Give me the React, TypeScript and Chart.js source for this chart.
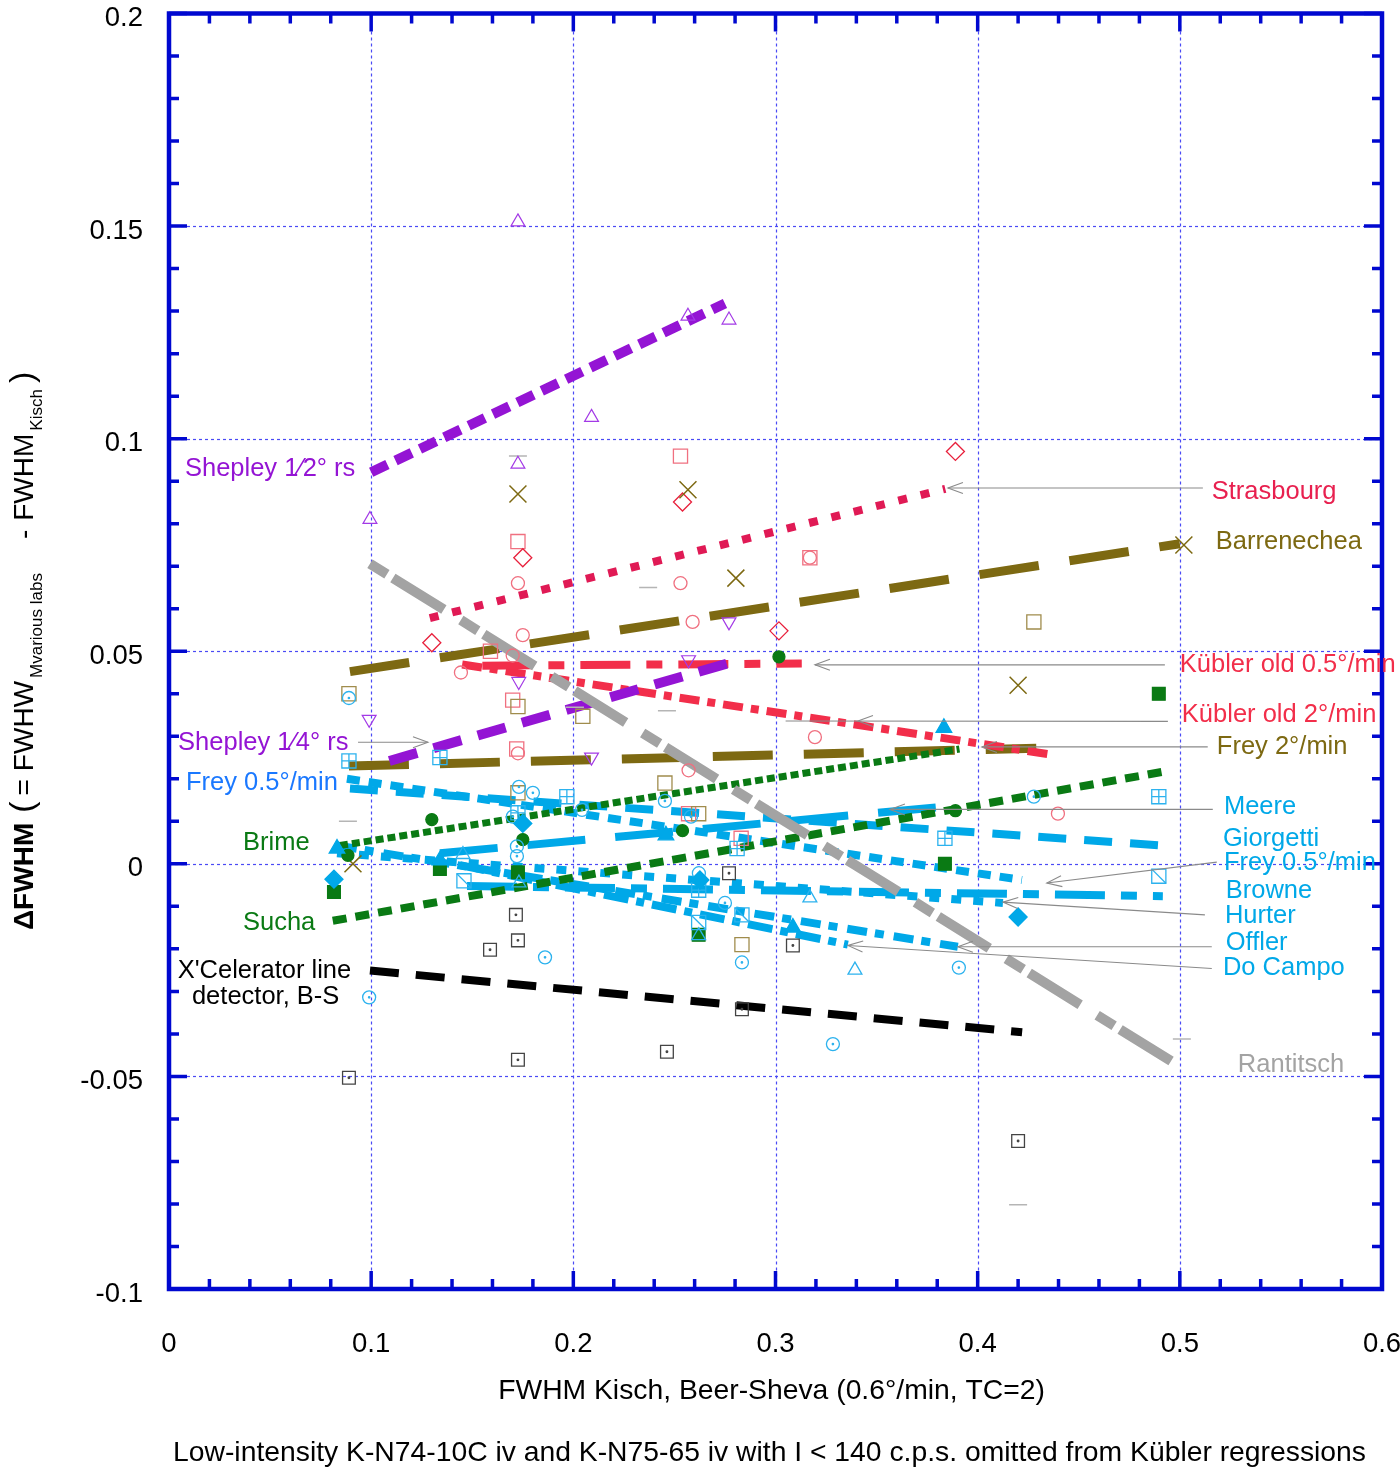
import React, { useEffect, useRef } from 'react';
import { Chart, registerables } from 'chart.js';
Chart.register(...registerables);

type P = [number, number];

// ---------- axes ----------
const X_MIN = 0, X_MAX = 0.6, Y_MIN = -0.1, Y_MAX = 0.2;
const xTickValues = [0, 0.1, 0.2, 0.3, 0.4, 0.5, 0.6];
const xTickLabels = ['0', '0.1', '0.2', '0.3', '0.4', '0.5', '0.6'];
const yTickValues = [-0.1, -0.05, 0, 0.05, 0.1, 0.15, 0.2];
const yTickLabels = ['-0.1', '-0.05', '0', '0.05', '0.1', '0.15', '0.2'];
const xGridValues = [0.1, 0.2, 0.3, 0.4, 0.5];
const yGridValues = [-0.05, 0, 0.05, 0.1, 0.15];
const xMinorStep = 0.02;
const yMinorStep = 0.01;

const xTitle = 'FWHM Kisch, Beer-Sheva (0.6°/min, TC=2)';
const caption = 'Low-intensity K-N74-10C iv and K-N75-65 iv with I < 140 c.p.s. omitted from Kübler regressions';

// ---------- regression lines ----------
const shepleyHalfLine: P[] = [[0.1, 0.0921], [0.275, 0.1318]];
const strasbourgLine: P[] = [[0.129, 0.0578], [0.384, 0.0882]];
const barrenecheaLine: P[] = [[0.0895, 0.0452], [0.5, 0.0753]];
const rantitschLine: P[] = [[0.0994, 0.0706], [0.496, -0.0465]];
const kublerHalfLine: P[] = [[0.155, 0.0466], [0.313, 0.0471]];
const kublerTwoLine: P[] = [[0.145, 0.0469], [0.435, 0.0258]];
const shepleyQuarterLine: P[] = [[0.109, 0.0242], [0.279, 0.0475]];
const frey2Line: P[] = [[0.089, 0.023], [0.429, 0.0272]];
const brimeLine: P[] = [[0.0846, 0.0043], [0.391, 0.027]];
const suchaLine: P[] = [[0.081, -0.0134], [0.491, 0.0216]];
const xcelLine: P[] = [[0.0994, -0.0251], [0.422, -0.0396]];
const freyHalfLine: P[] = [[0.088, 0.02], [0.4219, -0.0038]];
const giorgettiLine: P[] = [[0.0895, 0.0177], [0.4916, 0.0043]];
const meereLine: P[] = [[0.134, 0.0025], [0.3848, 0.0135]];
const browneLine: P[] = [[0.1474, -0.0052], [0.4916, -0.0076]];
const hurterLine: P[] = [[0.0831, 0.0025], [0.4125, -0.0092]];
const offlerLine: P[] = [[0.0831, 0.0043], [0.3902, -0.0195]];
const doCampoLine: P[] = [[0.1439, -0.0003], [0.3358, -0.019]];

// ---------- data points ----------
const shepleyHalfPts: P[] = [[0.1726, 0.151], [0.1726, 0.094], [0.0994, 0.081], [0.209, 0.105], [0.2567, 0.1288], [0.277, 0.1279]];
const shepleyQuarterPts: P[] = [[0.099, 0.034], [0.173, 0.0429], [0.209, 0.0251], [0.277, 0.0569], [0.257, 0.048]];
const strasbourgPts: P[] = [[0.13, 0.052], [0.175, 0.072], [0.254, 0.0851], [0.3017, 0.0548], [0.389, 0.097]];
const kublerHalfPts: P[] = [[0.253, 0.0959], [0.1726, 0.0758], [0.317, 0.072], [0.17, 0.0385], [0.159, 0.05], [0.172, 0.027], [0.257, 0.0118], [0.283, 0.006]];
const kublerTwoPts: P[] = [[0.1726, 0.066], [0.175, 0.0538], [0.1444, 0.045], [0.17, 0.049], [0.253, 0.066], [0.259, 0.0569], [0.257, 0.022], [0.3195, 0.0298], [0.4397, 0.0118], [0.1726, 0.026], [0.317, 0.072]];
const barrenecheaPts: P[] = [[0.1726, 0.087], [0.2567, 0.088], [0.2804, 0.0672], [0.42, 0.042], [0.091, 0.0], [0.502, 0.075]];
const frey2Pts: P[] = [[0.089, 0.04], [0.1726, 0.037], [0.2047, 0.0347], [0.2453, 0.019], [0.262, 0.0118], [0.1726, 0.0167], [0.4278, 0.0569], [0.2834, -0.019]];
const brimePts: P[] = [[0.13, 0.0104], [0.175, 0.0057], [0.3017, 0.0487], [0.254, 0.0078], [0.389, 0.0125], [0.0885, 0.002]];
const suchaPts: P[] = [[0.0816, -0.0066], [0.134, -0.0012], [0.1726, -0.002], [0.262, -0.0167], [0.3838, 0.0], [0.4896, 0.04]];
const xcelPts: P[] = [[0.089, -0.0503], [0.1588, -0.0202], [0.1716, -0.012], [0.1726, -0.018], [0.1726, -0.0461], [0.2463, -0.0442], [0.277, -0.0022], [0.2834, -0.0342], [0.3086, -0.0192], [0.42, -0.0652]];
const cyanCirclePts: P[] = [[0.1731, 0.0181], [0.18, 0.0167], [0.1701, 0.0111], [0.2043, 0.0127], [0.2453, 0.0148], [0.2582, 0.0111], [0.1721, 0.0041], [0.1721, 0.0018], [0.2621, -0.0022], [0.275, -0.0092], [0.186, -0.022], [0.099, -0.0314], [0.089, 0.039], [0.2834, -0.0232], [0.3907, -0.0244], [0.3284, -0.0424], [0.4278, 0.0158]];
const cyanTriOpenPts: P[] = [[0.1454, 0.0022], [0.317, -0.008], [0.3393, -0.025], [0.1731, -0.0045], [0.262, -0.0169]];
const cyanTriFilledPts: P[] = [[0.0831, 0.0036], [0.134, 0.0008], [0.2458, 0.0067], [0.3833, 0.032], [0.3086, -0.015]];
const cyanDiamondPts: P[] = [[0.0816, -0.0036], [0.175, 0.0095], [0.42, -0.0125], [0.2626, -0.0038]];
const cyanPlusSqPts: P[] = [[0.089, 0.0242], [0.134, 0.025], [0.1968, 0.0158], [0.1726, 0.012], [0.3838, 0.006], [0.4896, 0.0158], [0.262, -0.0062], [0.281, 0.0036]];
const cyanSlashSqPts: P[] = [[0.1459, -0.004], [0.262, -0.0138], [0.2834, -0.012], [0.4896, -0.0029]];
const rantitschPts: P[] = [[0.1726, 0.0959], [0.237, 0.065], [0.2463, 0.036], [0.0885, 0.01], [0.501, -0.0412], [0.42, -0.0802], [0.2008, 0.0368]];

// ---------- colours ----------
const FRAME = '#0008d0';
const GRID = '#4a4af5';
const PURPLE = '#9414d4';
const CRIMSON = '#e01a55';
const RED = '#f22e4a';
const PINK = '#f07080';
const OLIVE = '#7d6912';
const OLIVE_PT = '#a08c4c';
const GRAY = '#a3a3a3';
const GREEN = '#0a7a14';
const CYAN = '#00a8e8';
const CYAN_PT = '#2cb2ee';
const BLUE_LABEL = '#1a78ff';
const FONT = "'Liberation Sans', Arial, Helvetica, sans-serif";

// ---------- annotations ----------
type Label = { text: string; x: number; y: number; color: string; align?: CanvasTextAlign };
const labels: Label[] = [
  { text: 'Shepley 1⁄2° rs', x: 0.0079, y: 0.0928, color: PURPLE },
  { text: 'Shepley 1⁄4° rs', x: 0.0045, y: 0.0284, color: PURPLE },
  { text: 'Frey 0.5°/min', x: 0.0084, y: 0.0191, color: BLUE_LABEL },
  { text: 'Brime', x: 0.0366, y: 0.0048, color: GREEN },
  { text: 'Sucha', x: 0.0366, y: -0.0139, color: GREEN },
  { text: "X'Celerator line", x: 0.0472, y: -0.0253, color: '#000', align: 'center' },
  { text: 'detector, B-S', x: 0.0478, y: -0.0314, color: '#000', align: 'center' },
  { text: 'Strasbourg', x: 0.5158, y: 0.0875, color: '#e8204f' },
  { text: 'Barrenechea', x: 0.5178, y: 0.0756, color: OLIVE },
  { text: 'Kübler old 0.5°/min', x: 0.5, y: 0.0468, color: RED },
  { text: 'Kübler old 2°/min', x: 0.501, y: 0.0349, color: RED },
  { text: 'Frey 2°/min', x: 0.5183, y: 0.0274, color: OLIVE },
  { text: 'Meere', x: 0.5218, y: 0.0134, color: CYAN },
  { text: 'Giorgetti', x: 0.5213, y: 0.0059, color: CYAN },
  { text: 'Frey 0.5°/min', x: 0.5218, y: 0.0001, color: CYAN },
  { text: 'Browne', x: 0.5227, y: -0.0064, color: CYAN },
  { text: 'Hurter', x: 0.5223, y: -0.0123, color: CYAN },
  { text: 'Offler', x: 0.5227, y: -0.0186, color: CYAN },
  { text: 'Do Campo', x: 0.5213, y: -0.0244, color: CYAN },
  { text: 'Rantitsch', x: 0.5287, y: -0.0473, color: GRAY },
];

type Arrow = { from: P; tip: P; tail?: P };
const arrows: Arrow[] = [
  { from: [0.5114, 0.0884], tip: [0.3853, 0.0884] },
  { from: [0.4926, 0.0468], tip: [0.3195, 0.0468] },
  { from: [0.4941, 0.0335], tip: [0.3408, 0.0336], tail: [0.305, 0.0336] },
  { from: [0.5138, 0.0275], tip: [0.4021, 0.0275] },
  { from: [0.5163, 0.0128], tip: [0.3566, 0.0128] },
  { from: [0.5183, 0.0004], tip: [0.4342, -0.0045] },
  { from: [0.5124, -0.012], tip: [0.4125, -0.009] },
  { from: [0.5158, -0.0195], tip: [0.3902, -0.0195] },
  { from: [0.5158, -0.0246], tip: [0.3358, -0.0192] },
  { from: [0.0935, 0.0286], tip: [0.1281, 0.0286] },
];

// ---------- dataset builders ----------
const NONE = 'rgba(0,0,0,0)';
const xy = (a: P[]) => a.map(([x, y]) => ({ x, y }));

function pts(data: P[], style: any, color: string, r: number, fill = NONE, rot = 0, bw = 1.3) {
  return {
    data: xy(data), showLine: false, pointStyle: style, pointRadius: r, pointHoverRadius: r,
    pointRotation: rot, pointBackgroundColor: fill, pointBorderColor: color, pointBorderWidth: bw,
  };
}
function ln(data: P[], color: string, width: number, dash: number[]) {
  return {
    data: xy(data), showLine: true, pointRadius: 0, pointHoverRadius: 0, borderColor: color,
    borderWidth: width, borderDash: dash, borderCapStyle: 'butt', tension: 0, fill: false,
  };
}

const datasets: any[] = [
  // markers (top)
  pts(cyanTriFilledPts, 'triangle', CYAN, 9, CYAN),
  pts(cyanDiamondPts, 'rectRot', CYAN, 9, CYAN),
  pts(cyanPlusSqPts, 'cross', CYAN_PT, 7),
  pts(cyanPlusSqPts, 'rect', CYAN_PT, 10),
  pts(cyanSlashSqPts, 'line', CYAN_PT, 10, NONE, 45),
  pts(cyanSlashSqPts, 'rect', CYAN_PT, 10),
  pts(cyanTriOpenPts, 'triangle', CYAN_PT, 8),
  pts(cyanCirclePts, 'circle', CYAN_PT, 0.7, CYAN_PT),
  pts(cyanCirclePts, 'circle', CYAN_PT, 6.5),
  pts(brimePts, 'circle', GREEN, 6, GREEN),
  pts(suchaPts, 'rect', GREEN, 9, GREEN),
  pts(xcelPts, 'circle', '#444', 0.8, '#444'),
  pts(xcelPts, 'rect', '#444', 9),
  pts(barrenecheaPts, 'crossRot', OLIVE, 12, NONE, 0, 1.5),
  pts(frey2Pts, 'rect', OLIVE_PT, 10),
  pts(strasbourgPts, 'rectRot', '#e8203c', 9),
  pts(kublerHalfPts, 'rect', PINK, 10),
  pts(kublerTwoPts, 'circle', PINK, 6.5),
  pts(shepleyHalfPts, 'triangle', '#a33ae6', 8, NONE, 0, 1.2),
  pts(shepleyQuarterPts, 'triangle', '#a33ae6', 8, NONE, 180, 1.2),
  pts(rantitschPts, 'line', '#b5b5b5', 9, NONE, 0, 1.5),
  // regression lines
  ln(rantitschLine, GRAY, 10, [20, 7, 60, 20]),
  ln(brimeLine, GREEN, 7, [8, 4]),
  ln(suchaLine, GREEN, 8, [14, 9]),
  ln(xcelLine, '#000', 8, [29, 17]),
  ln(shepleyQuarterLine, PURPLE, 10, [29, 17]),
  ln(shepleyHalfLine, PURPLE, 10, [18, 9]),
  ln(kublerHalfLine, RED, 8, [50, 16, 16, 16]),
  ln(kublerTwoLine, RED, 8, [20, 8, 8, 8]),
  ln(strasbourgLine, CRIMSON, 8, [9, 14]),
  ln(barrenecheaLine, OLIVE, 9, [60, 31]),
  ln(frey2Line, OLIVE, 9, [60, 31]),
  ln(meereLine, CYAN, 8, [58, 30]),
  ln(giorgettiLine, CYAN, 8, [28, 18]),
  ln(freyHalfLine, CYAN, 8, [13, 9]),
  ln(browneLine, CYAN, 8, [50, 16, 16, 16]),
  ln(hurterLine, CYAN, 8, [10, 12]),
  ln(offlerLine, CYAN, 8, [20, 8, 9, 10]),
  ln(doCampoLine, CYAN, 8, [25, 8, 8, 8]),
];

// ---------- decoration plugin ----------
const deco = {
  id: 'deco',
  beforeDatasetsDraw(chart: any) {
    const { ctx, chartArea: a, scales } = chart;
    const sx = scales.x, sy = scales.y;
    ctx.save();
    ctx.strokeStyle = GRID;
    ctx.lineWidth = 1.2;
    ctx.setLineDash([3, 3]);
    xGridValues.forEach((v) => {
      const px = Math.round(sx.getPixelForValue(v)) + 0.5;
      ctx.beginPath(); ctx.moveTo(px, a.top); ctx.lineTo(px, a.bottom); ctx.stroke();
    });
    yGridValues.forEach((v) => {
      const py = Math.round(sy.getPixelForValue(v)) + 0.5;
      ctx.beginPath(); ctx.moveTo(a.left, py); ctx.lineTo(a.right, py); ctx.stroke();
    });
    ctx.restore();
  },
  afterDatasetsDraw(chart: any) {
    const { ctx, chartArea: a, scales } = chart;
    const sx = scales.x, sy = scales.y;
    const X = (v: number) => sx.getPixelForValue(v);
    const Y = (v: number) => sy.getPixelForValue(v);
    ctx.save();
    // leader lines with open arrowheads
    ctx.strokeStyle = '#8a8a8a';
    ctx.lineWidth = 1.1;
    ctx.setLineDash([]);
    arrows.forEach((ar) => {
      const x0 = X(ar.from[0]), y0 = Y(ar.from[1]);
      const x1 = X(ar.tip[0]), y1 = Y(ar.tip[1]);
      ctx.beginPath(); ctx.moveTo(x0, y0);
      if (ar.tail) ctx.lineTo(X(ar.tail[0]), Y(ar.tail[1])); else ctx.lineTo(x1, y1);
      ctx.stroke();
      const ang = Math.atan2(y0 - y1, x0 - x1);
      const L = 15, W = 5.5;
      const bx = x1 + Math.cos(ang) * L, by = y1 + Math.sin(ang) * L;
      const nx = -Math.sin(ang) * W, ny = Math.cos(ang) * W;
      ctx.beginPath();
      ctx.moveTo(bx + nx, by + ny); ctx.lineTo(x1, y1); ctx.lineTo(bx - nx, by - ny);
      ctx.stroke();
    });
    // ticks
    ctx.strokeStyle = FRAME;
    ctx.lineWidth = 3.5;
    const nx = Math.round((X_MAX - X_MIN) / xMinorStep);
    for (let i = 0; i <= nx; i++) {
      const px = X(X_MIN + i * xMinorStep);
      const L = i % 5 === 0 ? 18 : 10;
      ctx.beginPath();
      ctx.moveTo(px, a.bottom); ctx.lineTo(px, a.bottom - L);
      ctx.moveTo(px, a.top); ctx.lineTo(px, a.top + L);
      ctx.stroke();
    }
    const ny = Math.round((Y_MAX - Y_MIN) / yMinorStep);
    for (let i = 0; i <= ny; i++) {
      const py = Y(Y_MIN + i * yMinorStep);
      const L = i % 5 === 0 ? 18 : 10;
      ctx.beginPath();
      ctx.moveTo(a.left, py); ctx.lineTo(a.left + L, py);
      ctx.moveTo(a.right, py); ctx.lineTo(a.right - L, py);
      ctx.stroke();
    }
    // frame
    ctx.lineWidth = 4.5;
    ctx.strokeRect(a.left, a.top, a.right - a.left, a.bottom - a.top);
    ctx.restore();
  },
  afterDraw(chart: any) {
    const { ctx, chartArea: a, scales } = chart;
    const sx = scales.x, sy = scales.y;
    const X = (v: number) => sx.getPixelForValue(v);
    const Y = (v: number) => sy.getPixelForValue(v);
    ctx.save();
    ctx.fillStyle = '#000';
    ctx.font = `27.5px ${FONT}`;
    ctx.textBaseline = 'middle';
    ctx.textAlign = 'right';
    yTickValues.forEach((v, i) => ctx.fillText(yTickLabels[i], a.left - 26, Y(v) + 5));
    ctx.textAlign = 'center';
    xTickValues.forEach((v, i) => ctx.fillText(xTickLabels[i], X(v), a.bottom + 55));
    ctx.font = `28.3px ${FONT}`;
    ctx.fillText(xTitle, (a.left + a.right) / 2 - 4, a.bottom + 102);
    ctx.fillText(caption, (a.left + a.right) / 2 - 6, a.bottom + 164);
    // series labels
    ctx.font = `25.5px ${FONT}`;
    labels.forEach((lb) => {
      ctx.fillStyle = lb.color;
      ctx.textAlign = lb.align || 'left';
      ctx.fillText(lb.text, X(lb.x), Y(lb.y));
    });
    // y title (rotated, with subscripts)
    ctx.save();
    ctx.translate(33, 930);
    ctx.rotate(-Math.PI / 2);
    ctx.fillStyle = '#000';
    ctx.textAlign = 'left';
    ctx.textBaseline = 'alphabetic';
    const pieces: { t: string; f: string; sub?: boolean; gap: number }[] = [
      { t: 'ΔFWHM', f: `bold 28px ${FONT}`, gap: 10 },
      { t: '(', f: `34px ${FONT}`, gap: 6 },
      { t: '=', f: `28px ${FONT}`, gap: 8 },
      { t: 'FWHW', f: `28px ${FONT}`, gap: 3 },
      { t: 'Mvarious labs', f: `17px ${FONT}`, sub: true, gap: 34 },
      { t: '-', f: `28px ${FONT}`, gap: 9 },
      { t: 'FWHM', f: `28px ${FONT}`, gap: 3 },
      { t: 'Kisch', f: `17px ${FONT}`, sub: true, gap: 6 },
      { t: ')', f: `34px ${FONT}`, gap: 0 },
    ];
    let off = 0;
    pieces.forEach((p) => {
      ctx.font = p.f;
      ctx.fillText(p.t, off, p.sub ? 9 : 0);
      off += ctx.measureText(p.t).width + p.gap;
    });
    ctx.restore();
    ctx.restore();
  },
};

export default function App() {
  const ref = useRef<HTMLCanvasElement | null>(null);
  useEffect(() => {
    document.body.style.margin = '0';
    const canvas = ref.current;
    if (!canvas) return;
    const chart = new Chart(canvas, {
      type: 'scatter',
      data: { datasets },
      options: {
        responsive: false,
        animation: false,
        events: [],
        layout: { padding: { left: 169, top: 5, right: 18, bottom: 179 } },
        scales: {
          x: { type: 'linear', min: X_MIN, max: X_MAX, display: false },
          y: { type: 'linear', min: Y_MIN, max: Y_MAX, display: false },
        },
        plugins: { legend: { display: false }, tooltip: { enabled: false } },
      } as any,
      plugins: [deco],
    } as any);
    return () => chart.destroy();
  }, []);
  return (
    <div style={{ width: 1400, height: 1468, background: '#fff' }}>
      <canvas ref={ref} width={1400} height={1468} style={{ display: 'block', width: 1400, height: 1468 }} />
    </div>
  );
}
